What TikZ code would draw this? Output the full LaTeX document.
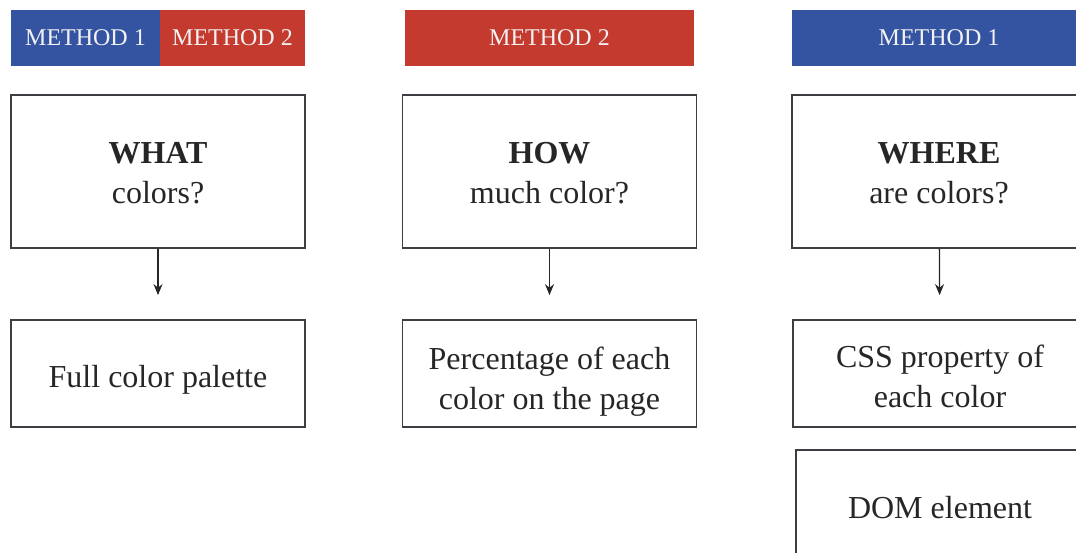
\documentclass[tikz,border=0pt]{standalone}
\usepackage{fontspec}
\setmainfont{Liberation Serif}
\usetikzlibrary{arrows.meta}
\definecolor{mblue}{RGB}{52,84,162}
\definecolor{mred}{RGB}{196,58,46}
\definecolor{edge}{RGB}{60,62,68}
\begin{document}
\begin{tikzpicture}[x=1pt,y=-1pt,
	head/.style={text=white!95!black,minimum height=56pt,inner sep=0pt,font=\fontsize{24}{28}\selectfont},
	box/.style={draw=edge,line width=1.8pt,minimum width=294pt,inner sep=0pt,align=center,text=black!85,font=\fontsize{32}{40}\selectfont},
	arr/.style={draw=black!85,line width=1.3pt,-{Stealth[length=11pt,width=9pt]},shorten >=24pt}]
	\useasboundingbox (0,0) rectangle (1076,552);
	\clip (0,0) rectangle (1076,552);
	% headers
	\node[head,fill=mblue,minimum width=149pt] (h1) at (85.5,38) {METHOD 1};
	\node[head,fill=mred,minimum width=145pt] (h2) at (232.5,38) {METHOD 2};
	\node[head,fill=mred,minimum width=289pt] (h3) at (549.5,38) {METHOD 2};
	\node[head,fill=mblue,minimum width=294pt] (h4) at (939,38) {METHOD 1};
	% questions
	\node[box,minimum height=153pt] (what) at (158,171.5) {\rule{0pt}{24pt}\textbf{WHAT}\\colors?};
	\node[box,minimum height=153pt] (how) at (549.5,171.5) {\rule{0pt}{24pt}\textbf{HOW}\\much color?};
	\node[box,minimum height=153pt] (where) at (939,171.5) {\rule{0pt}{24pt}\textbf{WHERE}\\are colors?};
	% answers
	\node[box,minimum height=107pt] (palette) at (158,373.5) {\rule{0pt}{34pt}Full color palette};
	\node[box,minimum height=107pt] (percent) at (549.5,373.5) {\rule{0pt}{38pt}Percentage of each\\color on the page};
	\node[box,minimum height=107pt] (css) at (940,373.5) {\rule{0pt}{29pt}CSS property of\\each color};
	\node[box,minimum height=114pt,minimum width=288pt] (dom) at (940,507) {\rule{0pt}{24pt}DOM element};
	% arrows
	\draw[arr] (what) -- (palette);
	\draw[arr] (how) -- (percent);
	\draw[arr] (where) -- (css);
\end{tikzpicture}
\end{document}
